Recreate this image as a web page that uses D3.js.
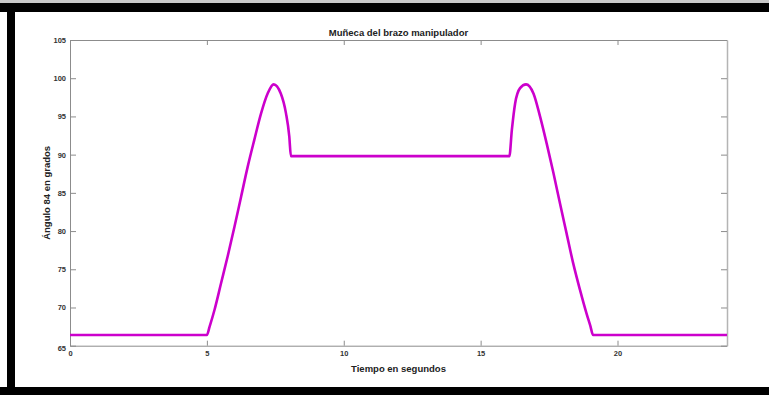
<!DOCTYPE html>
<html>
<head>
<meta charset="utf-8">
<script src="https://cdn.jsdelivr.net/npm/d3@7"></script>
<style>
body { margin: 0; background: #fff; }
text { font-family: "Liberation Sans", Arial, sans-serif; }
</style>
</head>
<body>
<script>
// time in seconds and wrist angle in degrees
var tiempo = [0, 5.0, 5.1, 5.28, 5.52, 5.76, 6.01, 6.25, 6.49, 6.73, 6.98, 7.22, 7.44, 7.70, 7.89, 8.01, 8.07,
              16.05, 16.14, 16.26, 16.44, 16.66, 16.93, 17.17, 17.41, 17.66, 17.90, 18.14, 18.38, 18.63, 18.87, 19.0, 19.11, 24];
var angulo = [66.4, 66.4, 67.5, 69.7, 73.2, 76.7, 80.6, 84.5, 88.4, 91.9, 95.4, 98.0, 99.2, 98.0, 95.4, 92.4, 89.8,
              89.8, 93.2, 96.7, 98.7, 99.2, 98.0, 95.0, 91.5, 87.6, 83.6, 79.7, 75.8, 72.3, 69.2, 67.7, 66.4, 66.4];
var xTicks = [0, 5, 10, 15, 20];
var yTicks = [65, 70, 75, 80, 85, 90, 95, 100, 105];

var W = 769, H = 395;
var pLeft = 70, pRight = 727, pTop = 40, pBottom = 345.7;

var svg = d3.select("body").append("svg")
  .attr("width", W)
  .attr("height", H);

// black frame round the figure
svg.append("rect").attr("x", 0).attr("y", 0).attr("width", W).attr("height", 3).style("fill", "#c8c8c8");
svg.append("rect").attr("x", 0).attr("y", 3).attr("width", W).attr("height", 9).style("fill", "#000");
svg.append("rect").attr("x", 7).attr("y", 3).attr("width", 8).attr("height", H).style("fill", "#000");
svg.append("rect").attr("x", 0).attr("y", 387).attr("width", W).attr("height", 8).style("fill", "#000");

var x = d3.scaleLinear().domain([0, 24]).range([pLeft, pRight]);
var y = d3.scaleLinear().domain([65, 105]).range([pBottom, pTop]);

var tickCol = "#8c8c8c";
var lblCol = "#333";

// axes, ticks pointing inward like matlab
var xAxis = svg.append("g").attr("transform", "translate(0," + pBottom + ")")
  .call(d3.axisBottom(x).tickValues(xTicks).tickSizeInner(-5).tickSizeOuter(0).tickPadding(6));
var xTop = svg.append("g").attr("transform", "translate(0," + pTop + ")")
  .call(d3.axisTop(x).tickValues(xTicks).tickSizeInner(-5).tickSizeOuter(0).tickFormat(""));
var yAxis = svg.append("g").attr("transform", "translate(" + pLeft + ",0)")
  .call(d3.axisLeft(y).tickValues(yTicks).tickSizeInner(-6).tickSizeOuter(0).tickPadding(4));
var yRight = svg.append("g").attr("transform", "translate(" + pRight + ",0)")
  .call(d3.axisRight(y).tickValues(yTicks).tickSizeInner(-6).tickSizeOuter(0).tickFormat(""));

[xAxis, xTop, yAxis, yRight].forEach(function(g) {
  g.selectAll(".domain").attr("stroke", tickCol);
  g.selectAll(".tick line").attr("stroke", tickCol);
  g.selectAll(".tick text")
    .attr("fill", lblCol)
    .style("font-size", "7.5px")
    .style("font-weight", "bold");
});
yAxis.selectAll(".tick").filter(function(d) { return d == 65; }).select("text").attr("dy", "0.6em");
xAxis.selectAll(".tick text").attr("dy", "0.6em");
yRight.select(".domain").attr("stroke", "#b4b4b4").attr("stroke-width", 1.5);

// the curve
var line = d3.line()
  .x(function(d, i) { return x(tiempo[i]); })
  .y(function(d) { return y(d); })
  .curve(d3.curveMonotoneX);

svg.append("path")
  .datum(angulo)
  .attr("d", line)
  .style("fill", "none")
  .style("stroke", "#cc00cc")
  .style("stroke-width", 2.6)
  .style("stroke-linejoin", "round");

svg.append("text")
  .attr("x", (pLeft + pRight) / 2)
  .attr("y", 36)
  .attr("text-anchor", "middle")
  .style("font-size", "9.5px")
  .style("font-weight", "bold")
  .style("fill", "#222")
  .text("Muñeca del brazo manipulador");

svg.append("text")
  .attr("x", (pLeft + pRight) / 2)
  .attr("y", 372)
  .attr("text-anchor", "middle")
  .style("font-size", "9.5px")
  .style("font-weight", "bold")
  .style("fill", "#222")
  .text("Tiempo en segundos");

svg.append("text")
  .attr("transform", "translate(50," + (pTop + pBottom) / 2 + ") rotate(-90)")
  .attr("text-anchor", "middle")
  .style("font-size", "9.5px")
  .style("font-weight", "bold")
  .style("fill", "#222")
  .text("Ángulo 84 en grados");
</script>
</body>
</html>
